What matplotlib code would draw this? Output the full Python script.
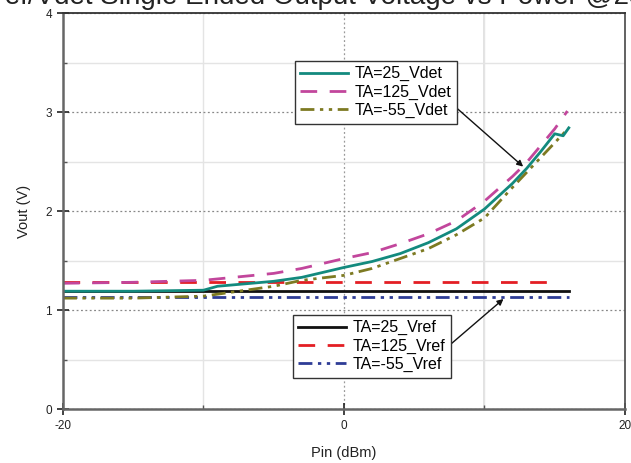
import matplotlib
matplotlib.use("Agg")
import matplotlib.pyplot as plt
from matplotlib.ticker import MultipleLocator

plt.rcParams['font.family'] = ['Liberation Sans', 'DejaVu Sans']
plt.rcParams['axes.unicode_minus'] = False

title = "Vref/Vdet Single Ended Output Voltage vs Power @25°C"
xlabel = "Pin (dBm)"
ylabel = "Vout (V)"

x_25_vdet = [-20, -15, -10, -9, -5, -3, 0, 2, 4, 6, 8, 10, 12, 13, 14, 15, 15.6, 16]
y_25_vdet = [1.19, 1.19, 1.20, 1.24, 1.29, 1.33, 1.43, 1.49, 1.57, 1.68, 1.82, 2.02, 2.28, 2.43, 2.60, 2.78, 2.76, 2.84]

x_125_vdet = [-20, -15, -10, -5, -3, 0, 2, 4, 6, 8, 10, 12, 13, 14, 15, 15.9]
y_125_vdet = [1.27, 1.28, 1.30, 1.37, 1.42, 1.52, 1.58, 1.67, 1.77, 1.90, 2.10, 2.35, 2.49, 2.66, 2.83, 3.01]

x_m55_vdet = [-20, -15, -10, -5, -3, 0, 2, 4, 6, 8, 10, 12, 13, 14, 15, 16]
y_m55_vdet = [1.12, 1.12, 1.14, 1.24, 1.30, 1.35, 1.42, 1.52, 1.62, 1.76, 1.93, 2.24, 2.39, 2.54, 2.69, 2.84]

x_vref = [-20, 16]
y_25_vref = [1.19, 1.19]
x_125_vref = [-20, 15.2]
y_125_vref = [1.28, 1.28]
y_m55_vref = [1.13, 1.13]

fig = plt.figure(figsize=(6.31, 4.63), dpi=100)
ax = fig.add_axes([0.0998, 0.1166, 0.8907, 0.8553])

l_v125, = ax.plot(x_125_vref, y_125_vref, color='#e31e24', lw=2.0, dashes=(6, 4.5))
l_vm55, = ax.plot(x_vref, y_m55_vref, color='#2e3c96', lw=2.0, dashes=(5, 2, 1.2, 2, 1.2, 2))
l_v25, = ax.plot(x_vref, y_25_vref, color='#111111', lw=2.0)

l_d125, = ax.plot(x_125_vdet, y_125_vdet, color='#c2469c', lw=2.0, dashes=(6, 4.5))
l_dm55, = ax.plot(x_m55_vdet, y_m55_vdet, color='#7d7a22', lw=2.0, dashes=(5, 2, 1.2, 2, 1.2, 2))
l_d25, = ax.plot(x_25_vdet, y_25_vdet, color='#138a7e', lw=2.0)

ax.set_xlim(-20, 20)
ax.set_ylim(0, 4)
ax.xaxis.set_major_locator(MultipleLocator(20))
ax.xaxis.set_minor_locator(MultipleLocator(10))
ax.yaxis.set_major_locator(MultipleLocator(1))
ax.yaxis.set_minor_locator(MultipleLocator(0.5))
ax.tick_params(which='major', direction='inout', length=9, width=1.2, labelsize=8.5, colors='#222222')
ax.tick_params(which='minor', direction='in', length=3, width=1.0, color='#555555')
ax.grid(which='major', axis='y', color='#888888', linestyle=(0, (1.5, 2)), lw=0.9)
ax.grid(which='minor', color='#e4e4e4', linestyle='-', lw=1.0)
ax.axvline(0, color='#999999', linestyle=(0, (1.5, 2)), lw=0.9, zorder=0.5)
ax.axvline(10, color='#dddddd', linestyle='-', lw=1.2, zorder=0.5)
ax.set_axisbelow(True)

for s in ['left', 'bottom']:
    ax.spines[s].set_color('#666666')
    ax.spines[s].set_linewidth(1.8)
ax.spines['top'].set_color('#333333')
ax.spines['top'].set_linewidth(1.3)
ax.spines['right'].set_color('#555555')
ax.spines['right'].set_linewidth(1.3)

ax.set_xlabel(xlabel, fontsize=10.5, labelpad=10, color='#222222')
ax.set_ylabel(ylabel, fontsize=10.5, labelpad=10, color='#222222')

leg1 = ax.legend([l_d25, l_d125, l_dm55], ['TA=25_Vdet', 'TA=125_Vdet', 'TA=-55_Vdet'],
                 loc='upper left', bbox_to_anchor=(0.412, 0.88), fontsize=11.5,
                 frameon=True, fancybox=False, edgecolor='#333333', framealpha=1,
                 handlelength=3.0, handletextpad=0.4, borderpad=0.35, labelspacing=0.2,
                 borderaxespad=0)
leg1.get_frame().set_linewidth(1.0)
ax.add_artist(leg1)
leg2 = ax.legend([l_v25, l_v125, l_vm55], ['TA=25_Vref', 'TA=125_Vref', 'TA=-55_Vref'],
                 loc='upper left', bbox_to_anchor=(0.409, 0.238), fontsize=11.5,
                 frameon=True, fancybox=False, edgecolor='#333333', framealpha=1,
                 handlelength=3.0, handletextpad=0.4, borderpad=0.35, labelspacing=0.2,
                 borderaxespad=0)
leg2.get_frame().set_linewidth(1.0)

ax.annotate('', xy=(12.9, 2.43), xytext=(7.3, 3.13),
            arrowprops=dict(arrowstyle='-|>', color='#111111', lw=1.0, mutation_scale=9))
ax.annotate('', xy=(11.5, 1.13), xytext=(6.9, 0.57),
            arrowprops=dict(arrowstyle='-|>', color='#111111', lw=1.0, mutation_scale=9))

fig.text(-0.035, 1.006, title, fontsize=20, ha='left', va='center', color='#222222')

fig.savefig('out.png', dpi=100)
